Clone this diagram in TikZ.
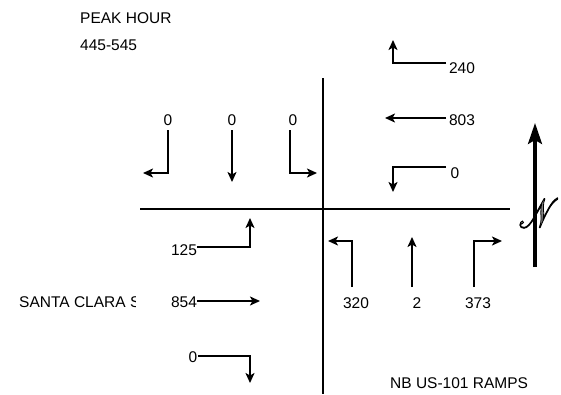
\documentclass[tikz,border=0pt]{standalone}
\usepackage{fontspec}
\setmainfont{Liberation Sans}
\usepackage{mathrsfs}
\usepackage{graphicx}
\usetikzlibrary{arrows.meta}
\begin{document}
\begin{tikzpicture}[x=1pt,y=-1pt,
  lbl/.style={font=\fontsize{15.5}{18}\selectfont, inner sep=0pt},
  road/.style={line width=1.7pt},
  mv/.style={line width=1.7pt, -{Stealth[length=10pt,width=9pt,inset=2.5pt]}},
  northarrow/.style={line width=3.2pt, -{Stealth[length=21pt,width=14pt,inset=4pt]}}
]
\useasboundingbox (0,0) rectangle (561,394);
% title
\node[lbl,anchor=west] (peak) at (80,18) {PEAK HOUR};
\node[lbl,anchor=west] (time) at (80,45) {445-545};
% roads
\coordinate (vn) at (323,78); \coordinate (vs) at (323,394);
\coordinate (hw) at (140,209); \coordinate (he) at (510,209);
\draw[road] (vn) -- (vs);
\draw[road] (hw) -- (he);
% southbound (top-left)
\node[lbl] (sbr) at (168,120) {0};
\node[lbl] (sbt) at (232,120) {0};
\node[lbl] (sbl) at (293,120) {0};
\draw[mv] (168,130) |- (143,173);
\draw[mv] (232,130) -- (232,182);
\draw[mv] (290,130) |- (317,173);
% westbound (right)
\node[lbl] (wbr) at (462,68) {240};
\node[lbl] (wbt) at (462,120) {803};
\node[lbl] (wbl) at (455,173) {0};
\draw[mv] (446,63) -| (393,40);
\draw[mv] (446,118) -- (385,118);
\draw[mv] (446,167) -| (393,192);
% eastbound (left)
\node[lbl] (ebl) at (184,250) {125};
\node[lbl] (ebt) at (184,302) {854};
\node[lbl] (ebr) at (193,357) {0};
\draw[mv] (197,247) -| (250,218);
\draw[mv] (197,301) -- (260,301);
\draw[mv] (198,356) -| (250,383);
% northbound (bottom)
\node[lbl] (nbl) at (356,303) {320};
\node[lbl] (nbt) at (417,303) {2};
\node[lbl] (nbr) at (478,303) {373};
\draw[mv] (352,287) |- (328,241);
\draw[mv] (412,287) -- (412,237);
\draw[mv] (474,287) |- (502,241);
% street names
\begin{scope}
\clip (0,280) rectangle (135.5,325);
\node[lbl,anchor=west] (santa) at (19,302) {SANTA CLARA ST};
\end{scope}
\node[lbl,anchor=west] (ramps) at (390,383) {NB US-101 RAMPS};
% north arrow
\draw[northarrow] (535,267) -- (535,123);
\node[inner sep=0pt] (north) at (539,213) {\scalebox{1.3}[1.65]{\Huge\color{gray}\special{pdf:literal direct 0 G 0.6 w 2 Tr}$\mathscr{N}$\special{pdf:literal direct 0 Tr}}};
\end{tikzpicture}
\end{document}
